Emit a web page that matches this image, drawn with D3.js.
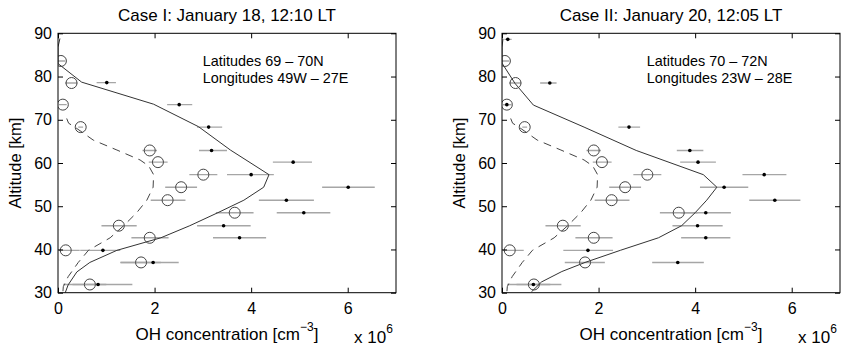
<!DOCTYPE html>
<html>
<head>
<meta charset="utf-8">
<script src="https://cdn.jsdelivr.net/npm/d3@7"></script>
<style>
  html, body { margin: 0; padding: 0; background: #fff; }
  svg { display: block; font-family: "Liberation Sans", Arial, Helvetica, sans-serif; }
</style>
</head>
<body>
<svg id="chart" width="843" height="349"></svg>
<script>
// ---------- data (OH concentration in units of 1e6 cm^-3, altitude in km) ----------
const xTicks = [0, 2, 4, 6];
const yTicks = [30, 40, 50, 60, 70, 80, 90];

const titles = ["Case I: January 18, 12:10 LT", "Case II: January 20, 12:05 LT"];
const latText = ["Latitudes 69 \u2013 70N", "Latitudes 70 \u2013 72N"];
const lonText = ["Longitudes 49W \u2013 27E", "Longitudes 23W \u2013 28E"];

// open circles (same in both cases)
const circleAlt = [83.6, 78.5, 73.5, 68.3, 62.9, 60.2, 57.3, 54.4, 51.4, 48.5, 45.5, 42.7, 39.8, 37.0, 31.9];
const circleOH  = [0.06, 0.28, 0.10, 0.47, 1.90, 2.07, 3.01, 2.55, 2.27, 3.66, 1.26, 1.90, 0.16, 1.72, 0.66];
const circleLo  = [0.00, 0.15, 0.02, 0.42, 1.75, 1.88, 2.72, 2.22, 1.92, 3.27, 0.90, 1.52, 0.02, 1.30, 0.30];
const circleHi  = [0.15, 0.40, 0.18, 0.52, 2.05, 2.27, 3.30, 2.88, 2.64, 4.05, 1.63, 2.29, 0.45, 2.13, 1.00];

// dashed model profile (same in both cases)
const dashAlt = [70.3, 69.2, 68.3, 65.3, 63.0, 60.7, 59.3, 57.3, 54.4, 51.4, 48.5, 45.5, 42.7, 39.8, 37.0, 33.7, 31.4, 30.0];
const dashOH  = [0.18, 0.22, 0.35, 0.73, 1.22, 1.70, 1.88, 1.98, 1.97, 1.84, 1.63, 1.36, 1.08, 0.63, 0.42, 0.21, 0.11, 0.10];

// Case I measurements (filled dots)
const case1Alt = [78.6, 73.5, 68.3, 62.9, 60.2, 57.3, 54.4, 51.4, 48.5, 45.5, 42.7, 39.8, 37.0, 31.9];
const case1OH  = [1.01, 2.51, 3.12, 3.18, 4.87, 4.00, 6.01, 4.73, 5.09, 3.43, 3.76, 0.93, 1.97, 0.83];
const case1Lo  = [0.80, 2.26, 2.88, 2.92, 4.45, 3.50, 5.47, 4.16, 4.53, 2.88, 3.21, 0.46, 1.29, 0.11];
const case1Hi  = [1.20, 2.78, 3.40, 3.50, 5.26, 4.47, 6.56, 5.30, 5.64, 3.99, 4.31, 1.29, 2.50, 1.54];

// Case I solid model line
const case1LineAlt = [88.8, 86.8, 83.0, 78.7, 73.6, 68.4, 63.0, 57.3, 54.4, 51.4, 48.5, 45.5, 42.7, 39.8, 37.0, 34.8, 31.8, 30.0];
const case1LineOH  = [0.04, 0.00, 0.00, 0.49, 1.98, 2.91, 3.57, 4.37, 4.26, 3.85, 3.31, 2.73, 2.13, 1.22, 0.66, 0.39, 0.21, 0.15];

// Case II measurements (filled dots)
const case2Alt = [88.6, 78.5, 73.5, 68.3, 62.9, 60.2, 57.3, 54.4, 51.4, 48.5, 45.5, 42.7, 39.8, 37.0, 31.9];
const case2OH  = [0.12, 0.99, 0.10, 2.63, 3.89, 4.06, 5.43, 4.60, 5.65, 4.22, 4.05, 4.22, 1.78, 3.64, 0.65];
const case2Lo  = [0.05, 0.79, 0.02, 2.41, 3.62, 3.69, 4.98, 4.10, 5.12, 3.70, 3.53, 3.71, 1.27, 3.11, 0.11];
const case2Hi  = [0.20, 1.13, 0.20, 2.86, 4.17, 4.43, 5.89, 5.10, 6.18, 4.74, 4.57, 4.73, 2.30, 4.18, 1.23];

// Case II solid model line
const case2LineAlt = [88.7, 86.8, 83.1, 78.4, 73.4, 68.3, 62.9, 57.3, 54.4, 51.4, 48.5, 45.5, 42.7, 39.8, 37.0, 34.9, 32.5, 30.2];
const case2LineOH  = [0.02, 0.00, 0.00, 0.27, 0.65, 1.70, 2.78, 4.17, 4.45, 4.24, 4.00, 3.72, 3.24, 2.45, 1.72, 1.24, 0.82, 0.61];

// ---------- drawing ----------
const svg = d3.select("#chart");
const plotTop = 33.3, plotBottom = 292.7;
const panels = [
  { left: 58, right: 396, title: titles[0], lat: latText[0], lon: lonText[0],
    dAlt: case1Alt, dOH: case1OH, dLo: case1Lo, dHi: case1Hi,
    lAlt: case1LineAlt, lOH: case1LineOH },
  { left: 502, right: 840, title: titles[1], lat: latText[1], lon: lonText[1],
    dAlt: case2Alt, dOH: case2OH, dLo: case2Lo, dHi: case2Hi,
    lAlt: case2LineAlt, lOH: case2LineOH }
];

panels.forEach(p => {
  const x = d3.scaleLinear().domain([0, 7]).range([p.left, p.right]);
  const y = d3.scaleLinear().domain([30, 90]).range([plotBottom, plotTop]);
  const g = svg.append("g");

  const cid = "clip" + p.left;
  svg.append("clipPath").attr("id", cid).append("rect")
    .attr("x", p.left).attr("y", plotTop).attr("width", p.right - p.left).attr("height", plotBottom - plotTop);
  const plot = g.append("g").attr("clip-path", `url(#${cid})`);

  // error bars: circles
  plot.selectAll(".cerr").data(circleAlt).enter().append("line")
    .attr("x1", (d, i) => x(circleLo[i])).attr("x2", (d, i) => x(circleHi[i]))
    .attr("y1", d => y(d)).attr("y2", d => y(d))
    .attr("stroke", "#a6a6a6").attr("stroke-width", 1.4);
  // error bars: dots
  plot.selectAll(".derr").data(p.dAlt).enter().append("line")
    .attr("x1", (d, i) => x(p.dLo[i])).attr("x2", (d, i) => x(p.dHi[i]))
    .attr("y1", d => y(d)).attr("y2", d => y(d))
    .attr("stroke", "#a6a6a6").attr("stroke-width", 1.4);

  // dashed model
  const dashPts = dashAlt.map((a, i) => [dashOH[i], a]);
  plot.append("path").datum(dashPts)
    .attr("d", d3.line().x(d => x(d[0])).y(d => y(d[1])))
    .attr("fill", "none").attr("stroke", "#444").attr("stroke-width", 1)
    .attr("stroke-dasharray", "8,6");

  // solid model
  const linePts = p.lAlt.map((a, i) => [p.lOH[i], a]);
  plot.append("path").datum(linePts)
    .attr("d", d3.line().x(d => x(d[0])).y(d => y(d[1])))
    .attr("fill", "none").attr("stroke", "#333").attr("stroke-width", 1);

  // open circles
  plot.selectAll(".circ").data(circleAlt).enter().append("circle")
    .attr("cx", (d, i) => x(circleOH[i])).attr("cy", d => y(d)).attr("r", 5.5)
    .attr("fill", "none").attr("stroke", "#444").attr("stroke-width", 1);

  // filled dots
  plot.selectAll(".dot").data(p.dAlt).enter().append("circle")
    .attr("cx", (d, i) => x(p.dOH[i])).attr("cy", d => y(d)).attr("r", 1.8)
    .attr("fill", "#000");

  // axes box with inward ticks
  const tickLen = 5;
  g.append("rect").attr("x", p.left).attr("y", plotTop)
    .attr("width", p.right - p.left).attr("height", plotBottom - plotTop)
    .attr("fill", "none").attr("stroke", "#000").attr("stroke-width", 1);

  const axB = g.append("g").attr("transform", `translate(0,${plotBottom})`)
    .call(d3.axisBottom(x).tickValues(xTicks).tickSizeInner(-tickLen).tickSizeOuter(0).tickPadding(10).tickFormat(d3.format("d")));
  const axT = g.append("g").attr("transform", `translate(0,${plotTop})`)
    .call(d3.axisTop(x).tickValues(xTicks).tickSizeInner(-tickLen).tickSizeOuter(0).tickFormat(""));
  const axL = g.append("g").attr("transform", `translate(${p.left},0)`)
    .call(d3.axisLeft(y).tickValues(yTicks).tickSizeInner(-tickLen).tickSizeOuter(0).tickPadding(6).tickFormat(d3.format("d")));
  const axR = g.append("g").attr("transform", `translate(${p.right},0)`)
    .call(d3.axisRight(y).tickValues(yTicks).tickSizeInner(-tickLen).tickSizeOuter(0).tickFormat(""));
  [axB, axT, axL, axR].forEach(a => {
    a.select(".domain").remove();
    a.selectAll(".tick line").attr("stroke", "#000");
    a.selectAll("text").attr("font-size", 16).attr("fill", "#000")
      .attr("font-family", "'Liberation Sans', Arial, sans-serif");
  });

  const cx = (p.left + p.right) / 2;
  // title
  g.append("text").attr("x", cx).attr("y", 20.5).attr("text-anchor", "middle")
    .attr("font-size", 17).text(p.title);

  // annotation
  g.append("text").attr("x", x(3.0)).attr("y", 66).attr("font-size", 14.4).text(p.lat);
  g.append("text").attr("x", x(3.0)).attr("y", 83).attr("font-size", 14.4).text(p.lon);

  // y label
  g.append("text").attr("transform", `translate(${p.left - 37},${(plotTop + plotBottom) / 2}) rotate(-90)`)
    .attr("text-anchor", "middle").attr("font-size", 16.5).text("Altitude [km]");

  // x label
  const xl = g.append("text").attr("x", cx).attr("y", 340).attr("text-anchor", "middle").attr("font-size", 17);
  xl.append("tspan").text("OH concentration [cm");
  xl.append("tspan").attr("dy", -9).attr("font-size", 12).text("\u22123");
  xl.append("tspan").attr("dy", 9).text("]");

  // multiplier
  const ml = g.append("text").attr("x", p.right - 42).attr("y", 343).attr("font-size", 17);
  ml.append("tspan").text("x 10");
  ml.append("tspan").attr("dy", -10).attr("font-size", 12).text("6");
});
</script>
</body>
</html>
